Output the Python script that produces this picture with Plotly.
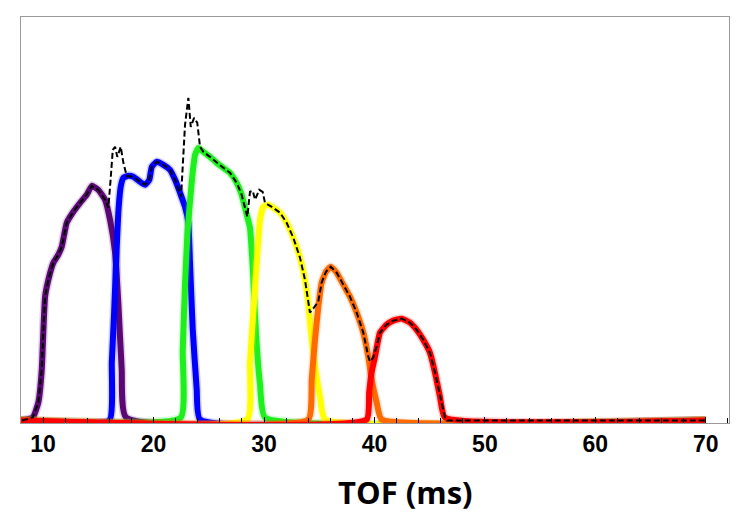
import plotly.graph_objects as go

# ---- data (TOF in ms, intensity in arbitrary units) ----
purple_x = [8.0, 9.07, 9.57, 9.88, 10.03, 10.18, 10.48, 10.93, 11.38, 11.69, 12.14, 12.74, 13.35, 13.95,
            14.41, 15.00, 15.61, 16.06, 16.52, 16.81, 17.12, 17.51, 70.0]
purple_y = [0, 3, 18, 51, 91, 124, 141, 158, 166, 174, 198, 209, 218, 226,
            235, 231, 221, 201, 168, 118, 51, 3, 0]

blue_x = [8.0, 16.0, 16.22, 16.43, 16.61, 16.81, 17.03, 17.27, 17.72, 18.17, 18.78, 19.23, 19.62, 19.84,
          20.29, 20.89, 21.49, 21.95, 22.40, 22.85, 23.15, 23.30, 23.55, 23.91, 24.21, 70.0]
blue_y = [0, 0, 58, 108, 158, 208, 234, 243, 245, 244, 239, 236, 241, 254,
          259, 256, 251, 241, 228, 214, 198, 158, 91, 31, 1, 0]

green_x = [8.0, 22.46, 22.64, 22.85, 23.06, 23.30, 23.55, 23.76, 24.05, 24.51, 25.11, 25.72, 26.32, 26.92,
           27.53, 27.98, 28.37, 28.73, 28.98, 29.28, 29.64, 30.09, 70.0]
green_y = [0, 3, 69, 136, 186, 219, 249, 266, 273, 269, 264, 258, 253, 248,
           238, 226, 209, 193, 153, 86, 36, 3, 0]

yellow_x = [8.0, 28.49, 28.73, 29.03, 29.34, 29.64, 29.94, 30.39, 30.84, 31.45, 32.05, 32.65, 33.26, 33.71,
            34.01, 34.23, 34.62, 35.07, 35.52, 70.0]
yellow_y = [0, 1, 58, 108, 158, 201, 214, 216, 213, 208, 198, 183, 163, 141,
            118, 91, 54, 24, 1, 0]

orange_x = [8.0, 34.01, 34.32, 34.62, 34.92, 35.22, 35.61, 36.04, 36.58, 37.18, 37.78, 38.39, 38.99, 39.44,
            39.75, 40.20, 40.65, 70.0]
orange_y = [0, 1, 41, 81, 114, 138, 149, 154, 148, 136, 124, 108, 88, 64,
            41, 18, 1, 0]

red_x = [8.0, 39.29, 39.52, 39.74, 40.05, 40.50, 41.10, 41.70, 42.46, 43.21, 43.81, 44.41, 45.02, 45.48,
         45.93, 46.38, 70.0]
red_y = [0, 1, 28, 48, 64, 88, 96, 100, 102, 98, 91, 81, 68, 48,
         24, 3, 0]

total_x = [8.10, 9.07, 9.57, 9.88, 10.03, 10.18, 10.48, 10.93, 11.38, 11.69, 12.14, 12.74, 13.35, 13.95,
           14.41, 15.00, 15.61, 15.91, 16.11, 16.31, 16.52, 16.72, 17.03, 17.27, 17.57, 18.17, 18.78, 19.23,
           19.62, 19.84, 20.29, 20.89, 21.49, 21.95, 22.49, 22.67, 22.85, 23.15, 23.37, 23.67, 23.96, 24.21,
           24.51, 25.11, 25.72, 26.32, 26.92, 27.53, 27.98, 28.37, 28.49, 28.73, 28.98, 29.19, 29.57, 29.88,
           30.09, 30.39, 30.84, 31.45, 32.05, 32.65, 33.26, 33.71, 34.01, 34.16, 34.52, 34.91, 35.22, 35.61,
           36.04, 36.58, 37.18, 37.78, 38.39, 38.99, 39.44, 39.59, 39.89, 40.20, 40.50, 41.10, 41.70, 42.46,
           43.21, 43.81, 44.41, 45.02, 45.48, 45.93, 46.38, 46.56, 70.0]
total_y = [0, 3, 18, 51, 91, 124, 141, 158, 166, 174, 198, 209, 218, 226,
           235, 231, 221, 213, 241, 271, 274, 264, 274, 258, 245, 244, 239, 236,
           241, 254, 259, 256, 251, 241, 224, 261, 296, 323, 294, 303, 298, 274,
           269, 264, 258, 253, 248, 238, 226, 211, 204, 229, 230, 221, 231, 229,
           218, 216, 213, 208, 198, 183, 163, 141, 121, 108, 113, 119, 138, 149,
           154, 148, 136, 124, 108, 88, 64, 59, 63, 74, 88, 96, 100, 102,
           98, 91, 81, 68, 48, 24, 3, 0, 0]

tick_vals = [10, 20, 30, 40, 50, 60, 70]
tick_text = ["10", "20", "30", "40", "50", "60", "70"]

series = [
    (purple_x, purple_y, "#5a0873"),
    (blue_x, blue_y, "#0000ff"),
    (green_x, green_y, "#1ef01e"),
    (yellow_x, yellow_y, "#ffff00"),
    (orange_x, orange_y, "#ff6a00"),
    (red_x, red_y, "#ff0000"),
]

fig = go.Figure()
for xs, ys, col in series:
    fig.add_trace(go.Scatter(x=xs, y=ys, mode="lines", line=dict(color=col, width=9, shape="spline", smoothing=0.4),
                             opacity=0.18, hoverinfo="skip", showlegend=False))
    fig.add_trace(go.Scatter(x=xs, y=ys, mode="lines", line=dict(color=col, width=6, shape="spline", smoothing=0.4),
                             showlegend=False))

fig.add_trace(go.Scatter(x=total_x, y=total_y, mode="lines",
                         line=dict(color="black", width=2, dash="6px,3px"), showlegend=False))

fig.update_layout(
    width=738, height=513,
    margin=dict(l=21, r=9, t=17, b=90),
    paper_bgcolor="white", plot_bgcolor="white",
    xaxis=dict(range=[8.0, 72.1], tickvals=tick_vals, ticktext=tick_text,
               ticks="inside", ticklen=6, tickcolor="black", tickwidth=1,
               minor=dict(dtick=2, tick0=0, ticks="inside", ticklen=5, tickcolor="black"),
               showgrid=False, zeroline=False, showline=True, linecolor="#9a9a9a", linewidth=1, mirror=True,
               tickfont=dict(family="Liberation Sans", size=23, color="black", weight="bold")),
    yaxis=dict(range=[-2.5, 404], showticklabels=False, ticks="", showgrid=False, zeroline=False,
               showline=True, linecolor="#9a9a9a", linewidth=1, mirror=True),
    annotations=[dict(text="<b>TOF (ms)</b>", xref="paper", yref="paper",
                      x=(405 - 21) / 708, y=(423 - 492) / 406, xanchor="center", yanchor="middle",
                      showarrow=False, font=dict(family="Open Sans", size=31, color="black"))],
)

fig.write_html("out.html")
